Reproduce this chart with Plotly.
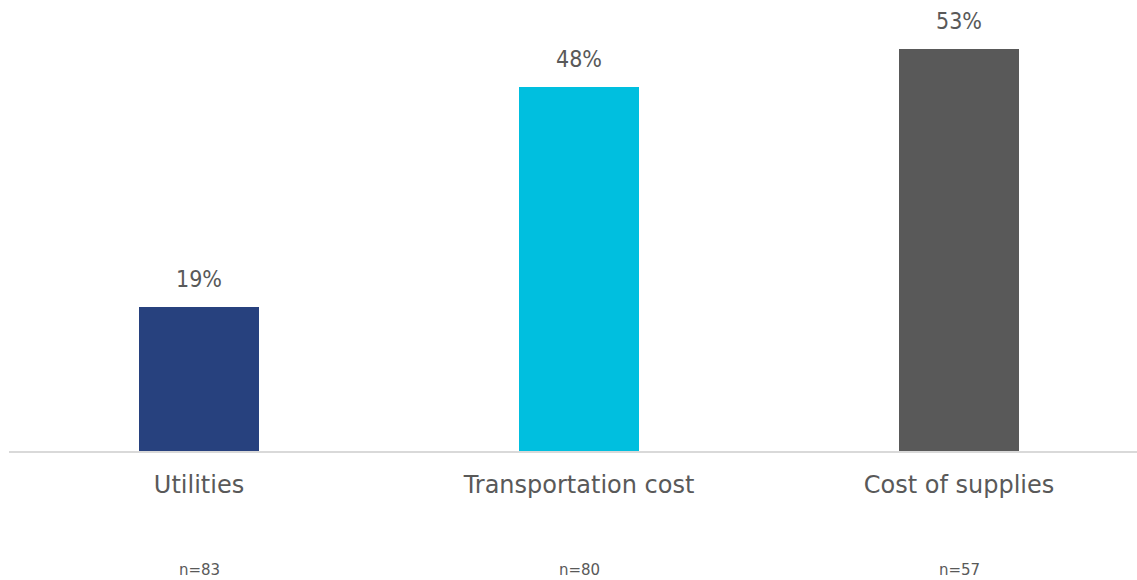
import plotly.graph_objects as go

categories = ["Utilities", "Transportation cost", "Cost of supplies"]
values = [19, 48, 53]
value_labels = ["19%", "48%", "53%"]
sample_sizes = ["n=83", "n=80", "n=57"]
bar_colors = ["#27417E", "#00BFDF", "#595959"]

TEXT = "#595959"
FONT = "DejaVu Sans"

x_idx = list(range(len(categories)))

fig = go.Figure()
fig.add_trace(go.Bar(
    x=x_idx, y=values, width=0.3158,
    marker=dict(color=bar_colors, line=dict(width=0)),
    hoverinfo="skip",
))

for i, (v, lab) in enumerate(zip(values, value_labels)):
    fig.add_annotation(x=i, y=v, xref="x", yref="y", text=lab, showarrow=False,
                       yanchor="bottom", yshift=13,
                       font=dict(family="DejaVu Sans Condensed", size=23, color=TEXT))

for i, n in enumerate(sample_sizes):
    fig.add_annotation(x=i, y=-0.264, xref="x", yref="paper", text=n, showarrow=False,
                       yanchor="middle",
                       font=dict(family=FONT, size=15, color=TEXT))

fig.update_layout(
    width=1137, height=580,
    margin=dict(l=9, r=0, t=0, b=129),
    paper_bgcolor="white", plot_bgcolor="white",
    showlegend=False,
    bargap=0,
    font=dict(family=FONT, color=TEXT),
    xaxis=dict(
        range=[-0.5, 2.4684],
        tickvals=x_idx, ticktext=categories,
        showline=True, linecolor="#D9D9D9", linewidth=2,
        showgrid=False, zeroline=False, ticks="",
        tickfont=dict(family=FONT, size=24, color=TEXT),
        ticklabelstandoff=11,
    ),
    yaxis=dict(range=[0, 59.4], visible=False, showgrid=False, zeroline=False),
)

fig.write_html("out.html", config={"displayModeBar": False},
               post_script="document.body.style.margin='0';document.body.style.overflow='hidden';")
